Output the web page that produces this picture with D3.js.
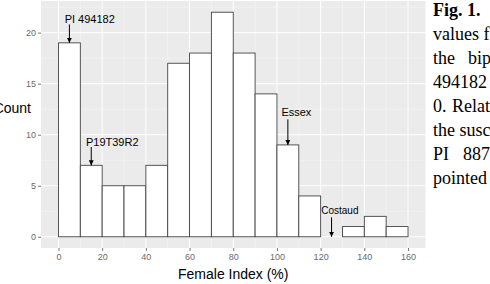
<!DOCTYPE html>
<html>
<head>
<meta charset="utf-8">
<script src="https://cdn.jsdelivr.net/npm/d3@7"></script>
<style>
  body { margin: 0; background: #fff; }
  svg { display: block; }
</style>
</head>
<body>
<div id="chart"></div>
<script>
// histogram bins (lower edge of each 10% bin) and counts
const binStarts = [0, 10, 20, 30, 40, 50, 60, 70, 80, 90, 100, 110, 120, 130, 140, 150];
const counts = [19, 7, 5, 5, 7, 17, 18, 22, 18, 14, 9, 4, 0, 1, 2, 1];
const binWidth = 10;

const xTicks = [0, 20, 40, 60, 80, 100, 120, 140, 160];
const yTicks = [0, 5, 10, 15, 20];

// annotations: label, label x/y, arrow x, arrow start/end (count)
const labels = ["PI 494182", "P19T39R2", "Essex", "Costaud"];
const labelX = [14.3, 24.6, 108.9, 128.8];
const labelY = [21.3, 9.3, 12.25, 2.55];
const arrowX = [5, 15, 105, 125];
const arrowFrom = [20.8, 8.8, 11.5, 1.9];
const arrowTo = [19, 7, 9, 0];

// caption text cropped at the right of the figure (word pairs)
const captionWords = [["Fig.", "1."], ["values", "f"], ["the", "bip"], ["494182"],
  ["0.", "Relat"], ["the", "susc"], ["PI", "887"], ["pointed"]];

const width = 490, height = 284;
const panel = { left: 41, right: 425.5, top: 1, bottom: 248 };
const sans = "'Liberation Sans', Arial, sans-serif";
const serif = "'Liberation Serif', 'Times New Roman', serif";

const svg = d3.select("#chart").append("svg")
  .attr("width", width)
  .attr("height", height);

const x = d3.scaleLinear().domain([-8, 168]).range([panel.left, panel.right]);
const y = d3.scaleLinear().domain([-1.1, 23.1]).range([panel.bottom, panel.top]);

// panel background
svg.append("rect")
  .attr("x", panel.left).attr("y", panel.top)
  .attr("width", panel.right - panel.left)
  .attr("height", panel.bottom - panel.top)
  .attr("fill", "#ebebeb");

// minor grid
const g = svg.append("g");
d3.range(10, 170, 20).forEach(v => {
  g.append("line").attr("x1", x(v)).attr("x2", x(v))
    .attr("y1", panel.top).attr("y2", panel.bottom)
    .attr("stroke", "#f7f7f7").attr("stroke-width", 0.5);
});
d3.range(2.5, 23, 5).forEach(v => {
  g.append("line").attr("x1", panel.left).attr("x2", panel.right)
    .attr("y1", y(v)).attr("y2", y(v))
    .attr("stroke", "#f7f7f7").attr("stroke-width", 0.5);
});
// major grid
xTicks.forEach(v => {
  g.append("line").attr("x1", x(v)).attr("x2", x(v))
    .attr("y1", panel.top).attr("y2", panel.bottom)
    .attr("stroke", "#fff").attr("stroke-width", 1);
});
yTicks.forEach(v => {
  g.append("line").attr("x1", panel.left).attr("x2", panel.right)
    .attr("y1", y(v)).attr("y2", y(v))
    .attr("stroke", "#fff").attr("stroke-width", 1);
});

// bars
svg.append("g")
  .selectAll("rect")
  .data(binStarts.map((b, i) => ({ b, c: counts[i] })))
  .join("rect")
  .attr("x", d => x(d.b))
  .attr("y", d => y(d.c))
  .attr("width", d => x(d.b + binWidth) - x(d.b))
  .attr("height", d => y(0) - y(d.c))
  .attr("fill", "#fff")
  .attr("stroke", "#444")
  .attr("stroke-width", 0.9);

// axes
const xAxis = d3.axisBottom(x).tickValues(xTicks).tickSize(3).tickPadding(3);
const yAxis = d3.axisLeft(y).tickValues(yTicks).tickSize(3).tickPadding(2);

const gx = svg.append("g").attr("transform", `translate(0,${panel.bottom})`).call(xAxis);
const gy = svg.append("g").attr("transform", `translate(${panel.left},0)`).call(yAxis);
[gx, gy].forEach(a => {
  a.select(".domain").remove();
  a.selectAll(".tick line").attr("stroke", "#777");
  a.selectAll(".tick text")
    .attr("fill", "#6a6a6a")
    .style("font-family", sans)
    .style("font-size", "9px");
});

// axis titles
svg.append("text")
  .attr("x", x(80)).attr("y", 279)
  .attr("text-anchor", "middle")
  .style("font-family", sans)
  .style("font-size", "14px")
  .text("Female Index (%)");

// cropped at the left edge, as in the original figure
svg.append("text")
  .attr("x", 31).attr("y", 113)
  .attr("text-anchor", "end")
  .style("font-family", sans)
  .style("font-size", "14px")
  .text("Count");

// arrows
const defs = svg.append("defs");
defs.append("marker")
  .attr("id", "arrowhead")
  .attr("viewBox", "0 0 10 10")
  .attr("refX", 10).attr("refY", 5)
  .attr("markerWidth", 5).attr("markerHeight", 5)
  .attr("orient", "auto")
  .append("path")
  .attr("d", "M0,0 L10,5 L0,10 z")
  .attr("fill", "#000");

svg.append("g")
  .selectAll("line")
  .data(arrowX.map((a, i) => ({ a, f: arrowFrom[i], t: arrowTo[i] })))
  .join("line")
  .attr("x1", d => x(d.a)).attr("x2", d => x(d.a))
  .attr("y1", d => y(d.f)).attr("y2", d => y(d.t))
  .attr("stroke", "#000")
  .attr("stroke-width", 1)
  .attr("marker-end", "url(#arrowhead)");

svg.append("g")
  .selectAll("text")
  .data(labels.map((l, i) => ({ l, lx: labelX[i], ly: labelY[i] })))
  .join("text")
  .attr("x", d => x(d.lx))
  .attr("y", d => y(d.ly))
  .attr("dy", "0.35em")
  .attr("text-anchor", "middle")
  .style("font-family", sans)
  .style("font-size", d => d.l === "Costaud" ? "10px" : "11px")
  .text(d => d.l);

// caption column on the right (justified text, so second words get their own x)
const secondWordX = [467, null, 468, null, 452, null, 463, null];
const cap = svg.append("g")
  .style("font-family", serif)
  .style("font-size", "18px");

captionWords.forEach((words, i) => {
  const t = cap.append("text")
    .attr("x", 433)
    .attr("y", 15.5 + i * 24)
    .style("font-weight", i === 0 ? "bold" : "normal");
  t.append("tspan").text(words[0]);
  if (words.length > 1) {
    const sp = t.append("tspan").text((secondWordX[i] ? "" : " ") + words[1]);
    if (secondWordX[i]) sp.attr("x", secondWordX[i]);
  }
});
</script>
</body>
</html>
